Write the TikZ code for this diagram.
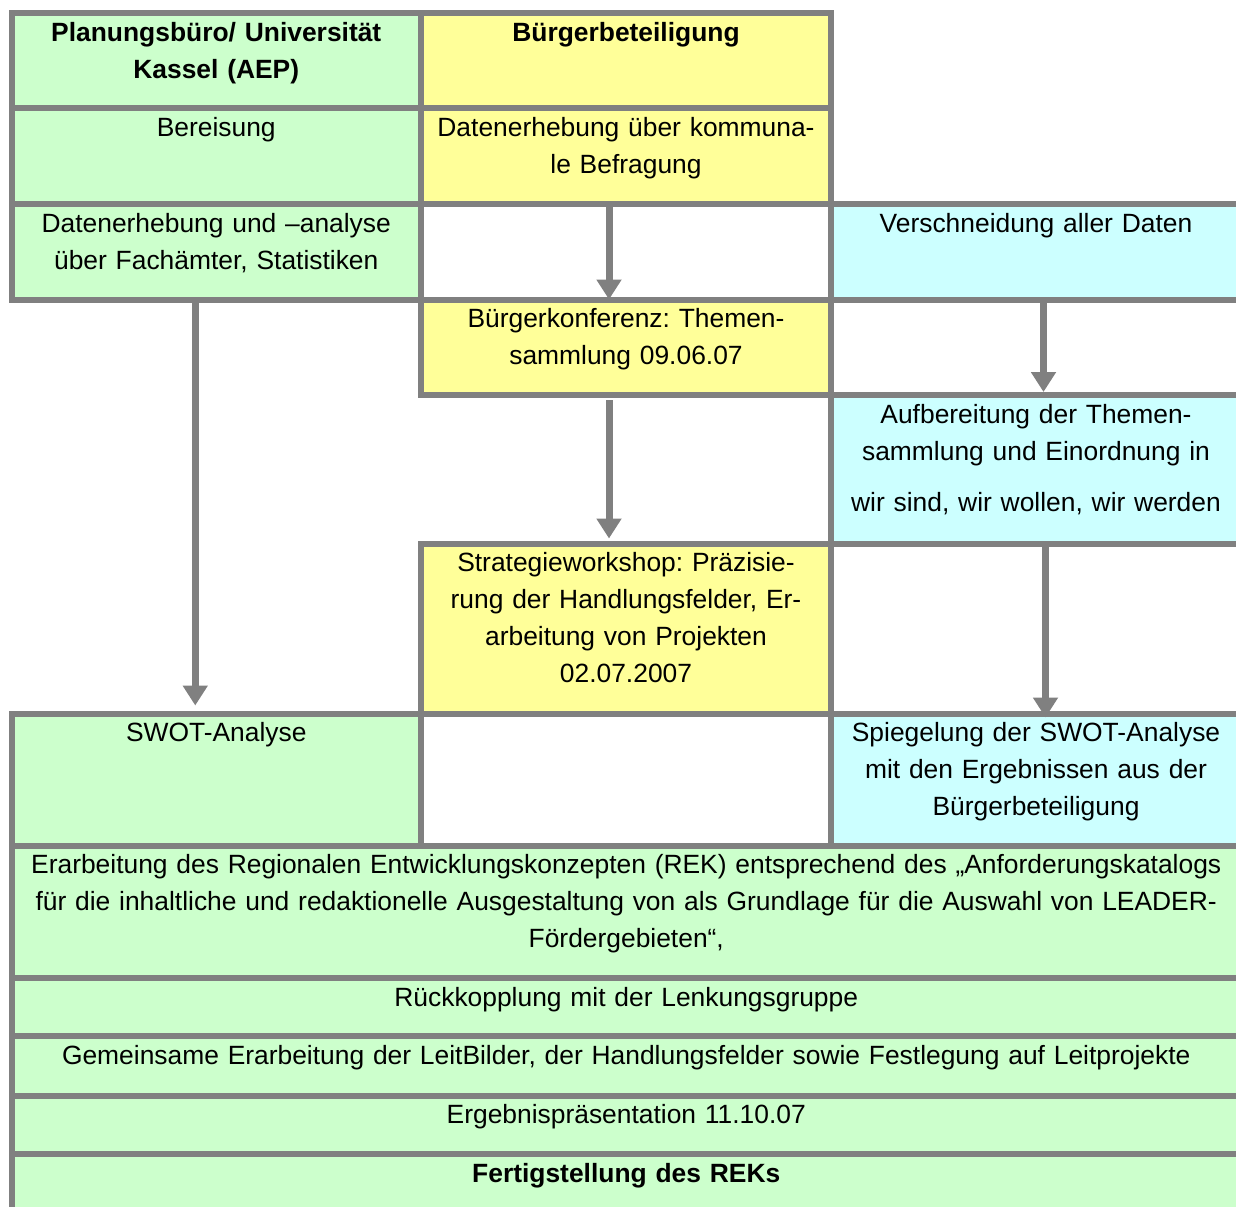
\documentclass[tikz,border=0pt]{standalone}
\usepackage{fontspec}
\setmainfont{Liberation Sans}
\usepackage{tikz}
\usetikzlibrary{arrows.meta,fit}

\definecolor{aepgruen}{HTML}{CCFFCC}
\definecolor{buergergelb}{HTML}{FFFF99}
\definecolor{datentuerkis}{HTML}{CCFFFF}
\definecolor{rastergrau}{HTML}{808080}

\frenchspacing

\begin{document}
\begin{tikzpicture}[x=0.5pt,y=-0.5pt,>={Triangle[width=12pt,length=10pt]},
  zelle/.style={draw=rastergrau,line width=3pt,inner sep=0pt,outer sep=0pt},
  txt/.style={anchor=base,inner sep=0pt,align=center,font=\fontsize{13.2pt}{18.5pt}\selectfont},
  fett/.style={font=\fontsize{13.2pt}{18.5pt}\selectfont\bfseries},
  pfeil/.style={->,draw=rastergrau,line width=3.5pt}]
  \useasboundingbox (0,0) rectangle (1236,1206);
  \clip (0,0) rectangle (1236,1206);

  % Spalte Planungsbuero
  \node[zelle,fill=aepgruen,fit={(11.5,13) (421,108)}] (kopfaep) {};
  \node[zelle,fill=aepgruen,fit={(11.5,108) (421,204)}] (bereisung) {};
  \node[zelle,fill=aepgruen,fit={(11.5,204) (421,299.5)}] (fachaemter) {};
  \node[zelle,fill=aepgruen,fit={(11.5,713.5) (421,845.5)}] (swot) {};
  % Spalte Buergerbeteiligung
  \node[zelle,fill=buergergelb,fit={(421,13) (831,108)}] (kopfbuerger) {};
  \node[zelle,fill=buergergelb,fit={(421,108) (831,204)}] (befragung) {};
  \node[zelle,fill=buergergelb,fit={(421,299.5) (831,395)}] (konferenz) {};
  \node[zelle,fill=buergergelb,fit={(421,543.5) (831,713.5)}] (workshop) {};
  % rechte Spalte
  \node[zelle,fill=datentuerkis,fit={(831,204) (1241,299.5)}] (verschneidung) {};
  \node[zelle,fill=datentuerkis,fit={(831,395) (1241,543.5)}] (aufbereitung) {};
  \node[zelle,fill=datentuerkis,fit={(831,713.5) (1241,845.5)}] (spiegelung) {};
  % durchgehende Zeilen
  \node[zelle,fill=aepgruen,fit={(11.5,845.5) (1241,978)}] (rek) {};
  \node[zelle,fill=aepgruen,fit={(11.5,978) (1241,1036)}] (rueck) {};
  \node[zelle,fill=aepgruen,fit={(11.5,1036) (1241,1095.5)}] (leitbild) {};
  \node[zelle,fill=aepgruen,fit={(11.5,1095.5) (1241,1154)}] (praes) {};
  \node[zelle,fill=aepgruen,fit={(11.5,1154) (1241,1215)}] (fertig) {};

  % Texte
  \node[txt,fett,text width=204pt] (kopfaep-t) at ([yshift=-14pt]kopfaep.north) {Planungsbüro/ Universität\\Kassel (AEP)};
  \node[txt,text width=204pt] (bereisung-t) at ([yshift=-14pt]bereisung.north) {Bereisung};
  \node[txt,text width=204pt] (fachaemter-t) at ([yshift=-14pt]fachaemter.north) {Datenerhebung und –analyse\\über Fachämter, Statistiken};
  \node[txt,text width=204pt] (swot-t) at ([yshift=-14pt]swot.north) {SWOT-Analyse};
  \node[txt,fett,text width=204pt] (kopfbuerger-t) at ([yshift=-14pt]kopfbuerger.north) {Bürgerbeteiligung};
  \node[txt,text width=204pt] (befragung-t) at ([yshift=-14pt]befragung.north) {Datenerhebung über kommuna-\\le Befragung};
  \node[txt,text width=204pt] (konferenz-t) at ([yshift=-14pt]konferenz.north) {Bürgerkonferenz: Themen-\\sammlung 09.06.07};
  \node[txt,text width=204pt] (workshop-t) at ([yshift=-14pt]workshop.north) {Strategieworkshop: Präzisie-\\rung der Handlungsfelder, Er-\\arbeitung von Projekten\\02.07.2007};
  \node[txt,text width=204pt] (verschneidung-t) at ([yshift=-14pt]verschneidung.north) {Verschneidung aller Daten};
  \node[txt,text width=204pt] (aufbereitung-t) at ([yshift=-14pt]aufbereitung.north) {Aufbereitung der Themen-\\sammlung und Einordnung in\\[7pt]wir sind, wir wollen, wir werden};
  \node[txt,text width=204pt] (spiegelung-t) at ([yshift=-14pt]spiegelung.north) {Spiegelung der SWOT-Analyse\\mit den Ergebnissen aus der\\Bürgerbeteiligung};
  \node[txt,text width=612pt] (rek-t) at ([yshift=-14pt]rek.north) {Erarbeitung des Regionalen Entwicklungskonzepten (REK) entsprechend des „Anforderungskatalogs\\für die inhaltliche und redaktionelle Ausgestaltung von als Grundlage für die Auswahl von LEADER-\\Fördergebieten“,};
  \node[txt,text width=612pt] (rueck-t) at ([yshift=-14pt]rueck.north) {Rückkopplung mit der Lenkungsgruppe};
  \node[txt,text width=612pt] (leitbild-t) at ([yshift=-14pt]leitbild.north) {Gemeinsame Erarbeitung der LeitBilder, der Handlungsfelder sowie Festlegung auf Leitprojekte};
  \node[txt,text width=612pt] (praes-t) at ([yshift=-14pt]praes.north) {Ergebnispräsentation 11.10.07};
  \node[txt,fett,text width=612pt] (fertig-t) at ([yshift=-14pt]fertig.north) {Fertigstellung des REKs};

  % Pfeile
  \draw[pfeil] ([xshift=-8.5pt]befragung.south) -- ([xshift=-8.5pt]konferenz.north);
  \draw[pfeil,shorten <=2.5pt,shorten >=2.5pt] ([xshift=-8.5pt]konferenz.south) -- ([xshift=-8.5pt]workshop.north);
  \draw[pfeil,shorten >=1.5pt] ([xshift=3.75pt]verschneidung.south) -- ([xshift=3.75pt]aufbereitung.north);
  \draw[pfeil,shorten >=-2pt] ([xshift=4.75pt]aufbereitung.south) -- ([xshift=4.75pt]spiegelung.north);
  \draw[pfeil,shorten >=4pt] ([xshift=-10.5pt]fachaemter.south) -- ([xshift=-10.5pt]swot.north);
\end{tikzpicture}
\end{document}
